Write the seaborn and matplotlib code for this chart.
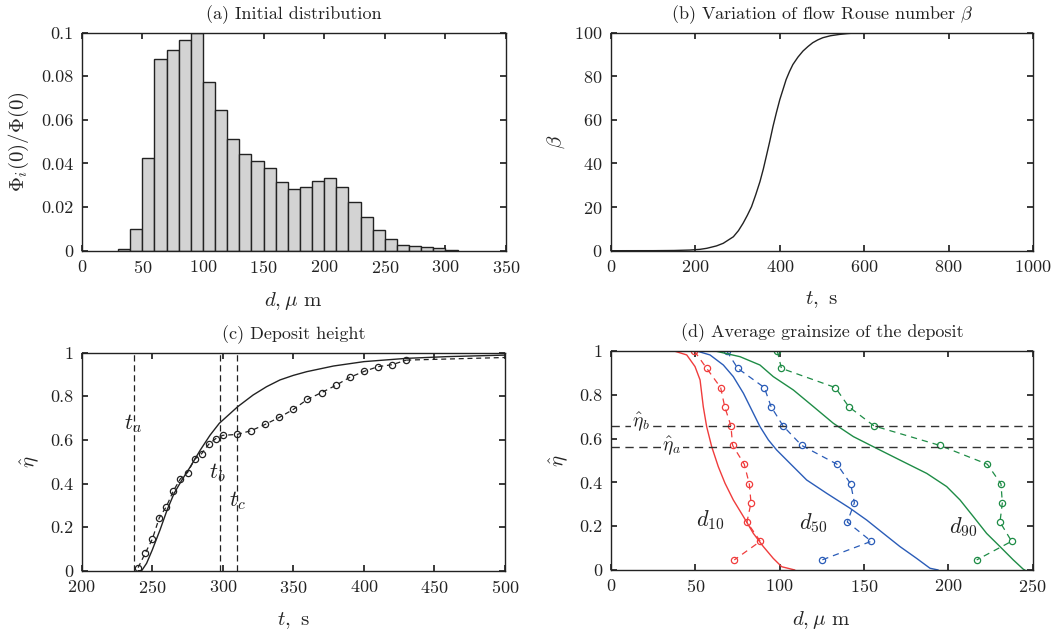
import numpy as np
import pandas as pd
import matplotlib
matplotlib.use("Agg")
import matplotlib.pyplot as plt
import seaborn as sns

# ---------------- data ----------------
# (a) initial distribution, 10 um bins
bin_left = [30, 40, 50, 60, 70, 80, 90, 100, 110, 120, 130, 140, 150, 160, 170,
            180, 190, 200, 210, 220, 230, 240, 250, 260, 270, 280, 290, 300]
bin_frac = [0.001, 0.010, 0.0425, 0.088, 0.092, 0.0966, 0.0997, 0.0775, 0.0647,
            0.0512, 0.0442, 0.0413, 0.038, 0.0314, 0.0285, 0.0291, 0.0322,
            0.0333, 0.0294, 0.0222, 0.0155, 0.0095, 0.0054, 0.0028, 0.002,
            0.0015, 0.0012, 0.0002]

# (b) Rouse number
t_beta = [0, 100, 150, 187, 210, 227, 250, 266, 290, 302, 313, 323, 333, 343, 353,
          361, 368, 376, 384, 392, 400, 408, 415, 423, 431, 443, 455, 467, 478,
          490, 502, 520, 541, 560, 581, 700, 1000]
beta = [0, 0.02, 0.1, 0.3, 0.6, 1.1, 2.2, 3.4, 6.4, 9.2, 12.6, 16.2, 20.2, 25.7, 31.7,
        37.5, 43.3, 50, 57.1, 63.4, 69.3, 74.2, 78.5, 82.2, 85.4, 88.8, 91.6, 93.7, 95.4,
        96.7, 97.7, 98.6, 99.2, 99.6, 99.9, 100, 100]

# (c) deposit height
t_model = [240, 242.5, 246, 250, 255.5, 260.5, 265.5, 271, 277, 284, 291, 297.5,
           304, 310.5, 321.5, 331, 340.5, 350, 359.5, 378.5, 400, 430, 459, 500]
eta_model = [0.0, 0.0, 0.034, 0.095, 0.187, 0.278, 0.355, 0.416, 0.477, 0.553,
             0.622, 0.676, 0.714, 0.752, 0.806, 0.844, 0.875, 0.896, 0.913, 0.939,
             0.959, 0.974, 0.982, 0.989]
t_exp = [240, 245, 250, 255, 260, 265, 270, 275, 280, 285, 290, 295, 300, 310,
         320, 330, 340, 350, 360, 370, 380, 390, 400, 410, 420, 430]
eta_exp = [0.014, 0.080, 0.144, 0.243, 0.294, 0.367, 0.422, 0.450, 0.511, 0.537,
           0.580, 0.606, 0.621, 0.625, 0.642, 0.671, 0.703, 0.740, 0.786, 0.817,
           0.850, 0.887, 0.914, 0.936, 0.945, 0.966]
t_tail = [430, 500]
eta_tail = [0.966, 0.978]
t_marks = {"a": 237, "b": 298, "c": 310}

# (d) grain sizes
eta_pts = [1.0, 0.921, 0.833, 0.746, 0.658, 0.569, 0.483, 0.393, 0.307, 0.219, 0.131, 0.046]
d10_pts = [49.4, 56.7, 65, 67.4, 71.1, 72.1, 79, 82, 83, 80.6, 88.5, 73.1]
d50_pts = [68.6, 75.1, 90.9, 94.9, 102, 113, 134, 142.1, 144.3, 140.1, 154.3, 125.1]
d90_pts = [98.6, 101, 133, 140.9, 155.9, 194.9, 223.1, 231.2, 232, 230.6, 237.5, 216.8]

d10_line = [37.4, 44.9, 49.8, 52.8, 54.7, 56.7, 59.7, 63.6, 67.6, 72.5, 78.5, 84.4, 90.3, 96.2, 101.2, 109]
e10_line = [1.0, 0.982, 0.929, 0.868, 0.746, 0.655, 0.563, 0.472, 0.396, 0.320, 0.244, 0.167, 0.107, 0.053, 0.015, 0.0]
d50_line = [50.8, 58.7, 66.6, 72.5, 78.5, 83.4, 88.3, 93.3, 98.2, 106.1, 116, 127.9, 141.7, 151.6, 161.5, 171.3, 181.2, 189.1, 194]
e50_line = [1.0, 0.982, 0.936, 0.883, 0.807, 0.731, 0.655, 0.594, 0.548, 0.487, 0.411, 0.350, 0.282, 0.228, 0.167, 0.107, 0.053, 0.008, 0.0]
d90_line = [61.7, 76.5, 88.3, 96.2, 108.1, 120, 131.8, 143.7, 155.5, 171.3, 187.2, 199, 206.9, 214.8, 222.7, 230.6, 238.5, 244.5, 245.4]
e90_line = [1.0, 0.974, 0.936, 0.883, 0.822, 0.746, 0.670, 0.609, 0.563, 0.502, 0.441, 0.381, 0.320, 0.244, 0.167, 0.107, 0.046, 0.003, 0.0]
eta_a, eta_b = 0.563, 0.659

# ---------------- style ----------------
sns.set_theme(style="ticks")
plt.rcParams.update({
    "font.family": ["cmr10"],
    "mathtext.fontset": "cm",
    "axes.formatter.use_mathtext": True,
    "axes.unicode_minus": False,
    "axes.edgecolor": "#222222",
    "axes.linewidth": 1.0,
    "xtick.direction": "in",
    "ytick.direction": "in",
    "xtick.top": True,
    "ytick.right": True,
    "xtick.major.size": 4,
    "ytick.major.size": 4,
    "xtick.labelsize": 13,
    "ytick.labelsize": 13,
    "xtick.color": "#222222",
    "ytick.color": "#222222",
    "text.color": "#222222",
})

fig = plt.figure(figsize=(10.54, 6.31), dpi=100)
W, H = 1054, 631
def rect(l, r, t, b):
    return [l / W, 1 - b / H, (r - l) / W, (b - t) / H]

axA = fig.add_axes(rect(81.7, 506, 32.7, 250.7))
axB = fig.add_axes(rect(611, 1033, 32.7, 250.7))
axC = fig.add_axes(rect(81.7, 505, 352.7, 570.7))
axD = fig.add_axes(rect(611, 1032.7, 351, 570))

title_kw = dict(fontsize=13, pad=10)
lab_kw = dict(fontsize=15)
mk = 4.5

# (a)
edges = bin_left + [bin_left[-1] + 10]
centers = [b + 5 for b in bin_left]
sns.histplot(x=centers, weights=bin_frac, bins=edges, ax=axA, color="#d3d3d3",
             edgecolor="#222222", linewidth=1.0, alpha=1.0)
axA.set_xlim(0, 350)
axA.set_ylim(0, 0.1)
axA.set_xticks([0, 50, 100, 150, 200, 250, 300, 350])
axA.set_yticks([0, 0.02, 0.04, 0.06, 0.08, 0.1])
axA.set_yticklabels(["0", "0.02", "0.04", "0.06", "0.08", "0.1"])
axA.set_title("(a) Initial distribution", **title_kw)
axA.set_xlabel(r"$d,\mu$ m", labelpad=10, **lab_kw)
axA.set_ylabel(r"$\Phi_i(0)/\Phi(0)$", labelpad=7, **lab_kw)

# (b)
sns.lineplot(x=t_beta, y=beta, ax=axB, color="#222222", linewidth=1.0,
             estimator=None, sort=False)
axB.set_xlim(0, 1000)
axB.set_ylim(0, 100)
axB.set_xticks([0, 200, 400, 600, 800, 1000])
axB.set_yticks([0, 20, 40, 60, 80, 100])
axB.set_title(r"(b) Variation of flow Rouse number $\beta$", **title_kw)
axB.set_xlabel(r"$t,$ s", labelpad=10, **lab_kw)
axB.set_ylabel(r"$\beta$", labelpad=5, **lab_kw)

# (c)
sns.lineplot(x=t_model, y=eta_model, ax=axC, color="#222222", linewidth=1.0,
             estimator=None, sort=False)
axC.plot(t_exp, eta_exp, linestyle=(0, (4, 3)), color="#222222", linewidth=0.9,
         marker="o", markersize=mk, markerfacecolor="none", markeredgewidth=0.9)
axC.plot(t_tail, eta_tail, linestyle=(0, (4, 3)), color="#222222", linewidth=0.9)
for k, tv in t_marks.items():
    axC.axvline(tv, color="#222222", linestyle=(0, (5, 3)), linewidth=0.9)
axC.text(236, 0.675, r"$t_a$", fontsize=16, ha="center", va="center")
axC.text(296, 0.45, r"$t_b$", fontsize=16, ha="center", va="center")
axC.text(310, 0.32, r"$t_c$", fontsize=16, ha="center", va="center")
axC.set_xlim(200, 500)
axC.set_ylim(0, 1)
axC.set_xticks([200, 250, 300, 350, 400, 450, 500])
axC.set_yticks([0, 0.2, 0.4, 0.6, 0.8, 1])
axC.set_yticklabels(["0", "0.2", "0.4", "0.6", "0.8", "1"])
axC.set_title("(c) Deposit height", **title_kw)
axC.set_xlabel(r"$t,$ s", labelpad=10, **lab_kw)
axC.set_ylabel(r"$\hat{\eta}$", labelpad=6, **lab_kw)

# (d)
cols = {"10": "#f03c3c", "50": "#2a5cb8", "90": "#1e8c46"}
for key, dl, el, dp in [("10", d10_line, e10_line, d10_pts),
                        ("50", d50_line, e50_line, d50_pts),
                        ("90", d90_line, e90_line, d90_pts)]:
    c = cols[key]
    sns.lineplot(x=dl, y=el, ax=axD, color=c, linewidth=1.0, estimator=None, sort=False)
    axD.plot(dp, eta_pts, linestyle=(0, (5, 4)), color=c, linewidth=0.9,
             marker="o", markersize=mk, markerfacecolor="none", markeredgewidth=0.9)
axD.axhline(eta_b, color="#333333", linestyle=(0, (6, 4)), linewidth=1.0)
axD.axhline(eta_a, color="#333333", linestyle=(0, (6, 4)), linewidth=1.0)
bb = dict(facecolor="white", edgecolor="none", pad=1)
axD.text(18, 0.675, r"$\hat{\eta}_b$", fontsize=14, ha="center", va="center", bbox=bb)
axD.text(36, 0.565, r"$\hat{\eta}_a$", fontsize=14, ha="center", va="center", bbox=bb)
axD.text(58.7, 0.228, r"$d_{10}$", fontsize=16, ha="center", va="center")
axD.text(120, 0.213, r"$d_{50}$", fontsize=16, ha="center", va="center")
axD.text(209, 0.198, r"$d_{90}$", fontsize=16, ha="center", va="center")
axD.set_xlim(0, 250)
axD.set_ylim(0, 1)
axD.set_xticks([0, 50, 100, 150, 200, 250])
axD.set_yticks([0, 0.2, 0.4, 0.6, 0.8, 1])
axD.set_yticklabels(["0", "0.2", "0.4", "0.6", "0.8", "1"])
axD.set_title("(d) Average grainsize of the deposit", **title_kw)
axD.set_xlabel(r"$d,\mu$ m", labelpad=10, **lab_kw)
axD.set_ylabel(r"$\hat{\eta}$", labelpad=6, **lab_kw)

for ax in (axA, axB, axC, axD):
    for s in ax.spines.values():
        s.set_visible(True)
        s.set_linewidth(1.0)
    ax.tick_params(which="both", top=True, right=True, direction="in", pad=6)

fig.savefig("out.png", dpi=100, facecolor="white")
